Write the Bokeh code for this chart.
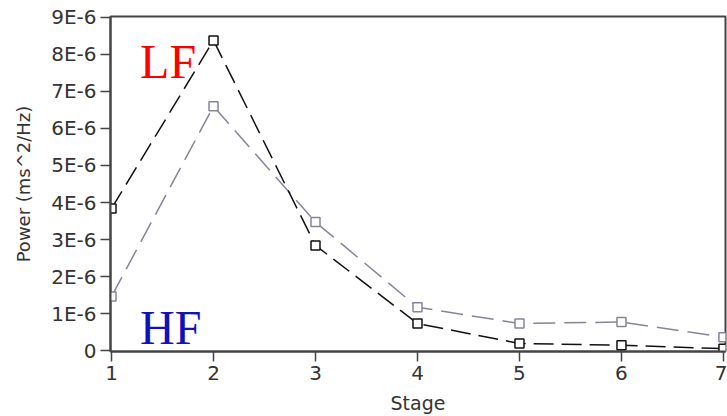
from bokeh.plotting import figure
from bokeh.models import Range1d, FixedTicker, CustomJSTickFormatter, Label
from bokeh.embed import file_html
from bokeh.resources import INLINE

stages = [1, 2, 3, 4, 5, 6, 7]
lf_power = [3.84e-6, 8.38e-6, 2.84e-6, 0.73e-6, 0.19e-6, 0.14e-6, 0.05e-6]
hf_power = [1.46e-6, 6.60e-6, 3.47e-6, 1.17e-6, 0.73e-6, 0.77e-6, 0.36e-6]
y_ticks = [i * 1e-6 for i in range(10)]
x_ticks = [1, 2, 3, 4, 5, 6, 7]

p = figure(width=727, height=416, output_backend="svg", toolbar_location=None,
           x_range=Range1d(0.99, 7.02), y_range=Range1d(-0.027e-6, 9.027e-6),
           min_border_left=110, min_border_right=2, min_border_top=16, min_border_bottom=65)
p.xgrid.visible = False
p.ygrid.visible = False
p.background_fill_color = "white"
p.border_fill_color = "white"
p.outline_line_color = "#444444"
p.outline_line_width = 2

font = "DejaVu Sans"
for ax in (p.xaxis[0], p.yaxis[0]):
    ax.axis_line_color = "#444444"
    ax.axis_line_width = 2
    ax.major_tick_line_color = "#444444"
    ax.major_tick_line_width = 1.5
    ax.major_tick_in = 0
    ax.major_tick_out = 10
    ax.minor_tick_line_color = None
    ax.major_label_text_font = font
    ax.major_label_text_font_size = "20px"
    ax.major_label_text_color = "#333333"
    ax.axis_label_text_font = font
    ax.axis_label_text_font_style = "normal"
    ax.axis_label_text_color = "#333333"

p.xaxis.ticker = FixedTicker(ticks=x_ticks)
p.yaxis.ticker = FixedTicker(ticks=y_ticks)
p.yaxis.formatter = CustomJSTickFormatter(code="""
    const v = Math.round(tick * 1e6);
    return v === 0 ? "0" : v + "E-6";
""")
p.xaxis.axis_label = "Stage"
p.yaxis.axis_label = "Power (ms^2/Hz)"
p.xaxis.axis_label_text_font_size = "19px"
p.yaxis.axis_label_text_font_size = "18px"
p.xaxis.axis_label_standoff = 9
p.yaxis.axis_label_standoff = 14
p.xaxis.major_label_standoff = 4
p.yaxis.major_label_standoff = 4

hf_color = "#85859a"
p.line(stages, hf_power, line_color=hf_color, line_width=1.5, line_dash="22 9")
p.scatter(stages, hf_power, marker="square", size=9, fill_color="white",
          line_color=hf_color, line_width=1.5)

p.line(stages, lf_power, line_color="#111111", line_width=1.5, line_dash="20 8")
p.scatter(stages, lf_power, marker="square", size=9, fill_color="white",
          line_color="#111111", line_width=1.5)

p.add_layout(Label(x=1.28, y=7.8e-6, text="LF", text_color="#ff0000",
                   text_font="Liberation Serif", text_font_size="48px",
                   text_baseline="alphabetic"))
p.add_layout(Label(x=1.28, y=0.62e-6, text="HF", text_color="#1111bb",
                   text_font="Liberation Serif", text_font_size="48px",
                   text_baseline="alphabetic"))

open("out.html", "w").write(file_html(p, INLINE))
